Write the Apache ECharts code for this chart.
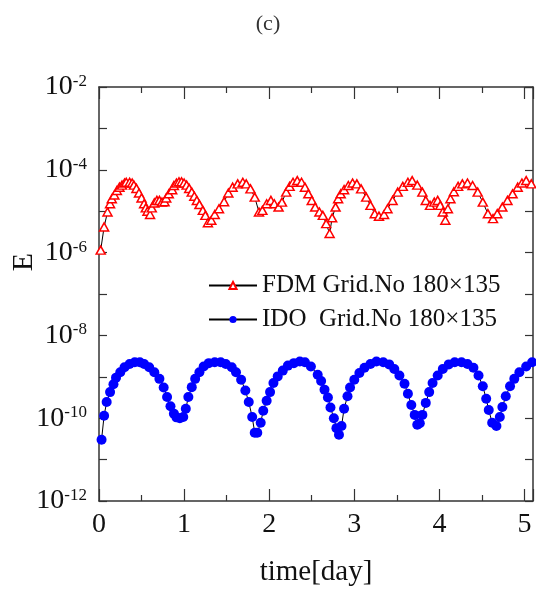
<!DOCTYPE html>
<html>
<head>
<meta charset="utf-8">
<script src="https://cdn.jsdelivr.net/npm/echarts@6/dist/echarts.min.js"></script>
<style>
html,body{margin:0;padding:0;background:#fff;}
#chart{width:536px;height:592px;}
</style>
</head>
<body>
<div id="chart"></div>
<script>
// ---- data ----
const chartTitle = '(c)';
const xAxisName = 'time[day]';
const yAxisName = 'E';
const xTickLabels = ['0', '1', '2', '3', '4', '5'];
const yTickExponents = [-12, -10, -8, -6, -4, -2];
const seriesNames = ['FDM Grid.No 180\u00d7135', 'IDO  Grid.No 180\u00d7135'];

// FDM: time [day] and log10(E)
const fdmTime = [0.02,0.06,0.10,0.13,0.15,0.18,0.21,0.24,0.27,0.30,0.32,0.36,0.39,0.41,0.44,0.47,0.50,0.53,0.55,0.57,0.60,0.62,0.65,0.68,0.71,0.74,0.77,0.79,0.82,0.86,0.88,0.91,0.94,0.97,1.00,1.03,1.06,1.09,1.12,1.15,1.18,1.22,1.25,1.28,1.32,1.36,1.41,1.47,1.52,1.57,1.63,1.69,1.73,1.78,1.83,1.88,1.92,1.97,2.02,2.06,2.11,2.15,2.20,2.24,2.28,2.33,2.38,2.42,2.46,2.50,2.54,2.59,2.63,2.67,2.71,2.74,2.78,2.81,2.84,2.88,2.93,2.98,3.03,3.08,3.14,3.19,3.24,3.29,3.35,3.39,3.45,3.51,3.57,3.63,3.68,3.74,3.80,3.84,3.89,3.94,3.98,4.01,4.04,4.07,4.10,4.13,4.17,4.22,4.27,4.33,4.39,4.45,4.51,4.57,4.63,4.68,4.74,4.80,4.86,4.92,4.97,5.02,5.08];
const fdmLogE = [-5.94,-5.38,-5.02,-4.82,-4.70,-4.61,-4.50,-4.42,-4.37,-4.32,-4.30,-4.30,-4.32,-4.37,-4.45,-4.56,-4.68,-4.82,-4.92,-5.00,-5.08,-4.92,-4.80,-4.74,-4.74,-4.78,-4.77,-4.68,-4.58,-4.48,-4.38,-4.32,-4.29,-4.29,-4.32,-4.37,-4.45,-4.54,-4.64,-4.74,-4.84,-4.98,-5.10,-5.28,-5.22,-5.08,-4.94,-4.77,-4.56,-4.42,-4.34,-4.30,-4.34,-4.46,-4.66,-5.02,-4.98,-4.82,-4.74,-4.82,-4.90,-4.78,-4.54,-4.40,-4.30,-4.26,-4.30,-4.42,-4.58,-4.74,-4.90,-5.02,-5.10,-5.30,-5.54,-5.16,-4.90,-4.70,-4.58,-4.48,-4.38,-4.32,-4.34,-4.46,-4.66,-4.86,-5.06,-5.12,-5.08,-4.94,-4.74,-4.54,-4.40,-4.30,-4.26,-4.37,-4.54,-4.74,-4.86,-4.78,-4.74,-4.86,-5.02,-5.22,-4.94,-4.70,-4.53,-4.40,-4.34,-4.32,-4.38,-4.54,-4.78,-5.06,-5.18,-5.06,-4.90,-4.74,-4.58,-4.42,-4.32,-4.26,-4.34];

// IDO: time [day] and log10(E)
const idoTime = [0.03,0.06,0.09,0.13,0.17,0.20,0.25,0.30,0.36,0.42,0.48,0.53,0.59,0.65,0.71,0.76,0.80,0.84,0.88,0.91,0.95,0.99,1.02,1.05,1.09,1.13,1.18,1.23,1.29,1.36,1.43,1.49,1.56,1.61,1.67,1.72,1.76,1.80,1.83,1.86,1.90,1.93,1.97,2.01,2.05,2.10,2.16,2.22,2.29,2.36,2.42,2.49,2.57,2.61,2.65,2.69,2.72,2.76,2.79,2.82,2.85,2.88,2.92,2.95,3.00,3.06,3.12,3.19,3.26,3.34,3.41,3.47,3.53,3.59,3.63,3.67,3.71,3.74,3.77,3.80,3.84,3.88,3.92,3.98,4.04,4.11,4.18,4.26,4.33,4.40,4.46,4.51,4.55,4.58,4.62,4.67,4.71,4.74,4.78,4.83,4.88,4.94,5.02,5.09];
const idoLogE = [-10.52,-9.94,-9.61,-9.37,-9.18,-9.02,-8.89,-8.77,-8.69,-8.65,-8.65,-8.69,-8.77,-8.89,-9.05,-9.26,-9.49,-9.71,-9.89,-9.98,-10.00,-9.97,-9.77,-9.49,-9.25,-9.05,-8.89,-8.75,-8.67,-8.65,-8.65,-8.69,-8.77,-8.89,-9.07,-9.33,-9.61,-9.97,-10.35,-10.35,-10.11,-9.82,-9.58,-9.37,-9.15,-8.99,-8.85,-8.73,-8.67,-8.63,-8.65,-8.75,-8.95,-9.10,-9.31,-9.50,-9.74,-10.00,-10.24,-10.40,-10.19,-9.77,-9.47,-9.26,-9.07,-8.91,-8.78,-8.69,-8.63,-8.65,-8.70,-8.81,-8.97,-9.17,-9.41,-9.68,-9.92,-10.16,-10.12,-9.92,-9.63,-9.37,-9.15,-8.97,-8.81,-8.70,-8.65,-8.65,-8.69,-8.78,-8.97,-9.23,-9.53,-9.80,-10.11,-10.19,-9.97,-9.73,-9.47,-9.23,-9.05,-8.89,-8.75,-8.65];

// ---- chart ----
const FONT = 'Liberation Serif';
const AX = '#333';
const toPairs = (t, lg) => t.map((v, i) => [v, Math.pow(10, lg[i])]);

const chart = echarts.init(document.getElementById('chart'));
const yLabelFormatter = v => {
  const e = Math.round(Math.log10(v));
  return yTickExponents.indexOf(e) >= 0 ? '{b|10}{s|' + e + '}' : '';
};
const xLabelFormatter = v => {
  const s = String(v);
  return xTickLabels.indexOf(s) >= 0 ? s : '';
};

chart.setOption({
  animation: false,
  backgroundColor: '#fff',
  title: {
    text: chartTitle, left: 'center', top: 8,
    textStyle: {fontFamily: FONT, fontSize: 22, fontWeight: 'normal', color: '#333'}
  },
  legend: {
    left: 203, top: 268, orient: 'vertical',
    itemWidth: 48, itemHeight: 9, itemGap: 9,
    textStyle: {fontFamily: FONT, fontSize: 25, color: '#111', lineHeight: 24},
    data: seriesNames
  },
  grid: {left: 99, right: 3, top: 87, bottom: 87, show: false},
  xAxis: [{
    type: 'value', min: 0, max: 5.1, interval: 1,
    name: xAxisName, nameLocation: 'middle', nameGap: 57,
    nameTextStyle: {fontFamily: FONT, fontSize: 29, color: '#111'},
    axisLine: {show: true, onZero: false, lineStyle: {color: AX, width: 1.5}},
    axisTick: {show: true, inside: true, length: 12, lineStyle: {color: AX, width: 1.2}},
    minorTick: {show: true, splitNumber: 2, length: 6, lineStyle: {color: AX, width: 1.2}},
    axisLabel: {fontFamily: FONT, fontSize: 28, color: '#111', margin: 10, formatter: xLabelFormatter},
    splitLine: {show: false}
  }, {
    type: 'value', min: 0, max: 5.1, interval: 1, position: 'top',
    axisLine: {show: true, onZero: false, lineStyle: {color: AX, width: 1.5}},
    axisTick: {show: true, inside: true, length: 12, lineStyle: {color: AX, width: 1.2}},
    minorTick: {show: true, splitNumber: 2, length: 6, lineStyle: {color: AX, width: 1.2}},
    axisLabel: {show: false},
    splitLine: {show: false}
  }],
  yAxis: [{
    type: 'log', logBase: 10, min: 1e-12, max: 1e-2, splitNumber: 10,
    axisLine: {show: true, onZero: false, lineStyle: {color: AX, width: 1.5}},
    axisTick: {show: true, inside: true, length: 8, lineStyle: {color: AX, width: 1.2}},
    axisLabel: {
      margin: 12, formatter: yLabelFormatter,
      rich: {
        b: {fontFamily: FONT, fontSize: 28, color: '#111', verticalAlign: 'bottom', lineHeight: 28},
        s: {fontFamily: FONT, fontSize: 17, color: '#111', verticalAlign: 'top', lineHeight: 28, padding: [0, 0, 14, 0]}
      }
    },
    splitLine: {show: false}
  }, {
    type: 'log', logBase: 10, min: 1e-12, max: 1e-2, splitNumber: 10, position: 'right',
    axisLine: {show: true, onZero: false, lineStyle: {color: AX, width: 1.5}},
    axisTick: {show: true, inside: true, length: 8, lineStyle: {color: AX, width: 1.2}},
    axisLabel: {show: false},
    splitLine: {show: false}
  }],
  graphic: [{
    type: 'text', left: 9, top: 253, rotation: Math.PI / 2,
    style: {text: yAxisName, fontFamily: FONT, fontSize: 30, fill: '#111'}
  }],
  series: [{
    name: seriesNames[0], type: 'line', xAxisIndex: 0, yAxisIndex: 0,
    data: toPairs(fdmTime, fdmLogE),
    symbol: 'triangle', symbolSize: [9, 8], showAllSymbol: true,
    lineStyle: {color: '#000', width: 1},
    itemStyle: {color: '#fff', borderColor: '#ff0000', borderWidth: 1.5},
    z: 3
  }, {
    name: seriesNames[1], type: 'line', xAxisIndex: 0, yAxisIndex: 0,
    data: toPairs(idoTime, idoLogE),
    symbol: 'circle', symbolSize: 10, showAllSymbol: true,
    lineStyle: {color: '#000', width: 1},
    itemStyle: {color: '#0000ff', borderWidth: 0},
    z: 2
  }]
});
</script>
</body>
</html>
